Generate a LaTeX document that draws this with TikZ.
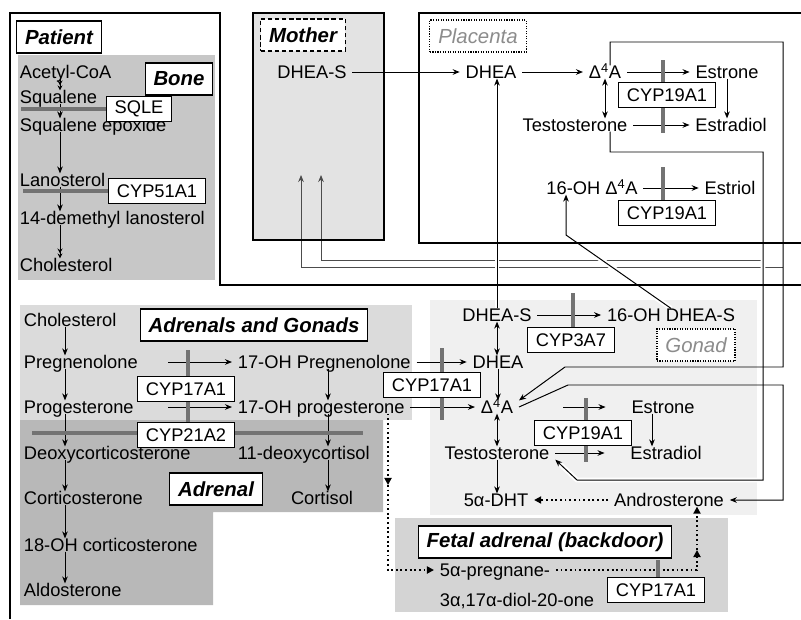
\documentclass[tikz,border=0pt]{standalone}
\usepackage{fontspec}
\setmainfont{Liberation Sans}
\usetikzlibrary{arrows.meta,positioning,calc}

\pgfdeclarelayer{shade}
\pgfdeclarelayer{lines}
\pgfsetlayers{shade,lines,main}

\tikzset{
  met/.style={font=\fontsize{13}{15}\selectfont, inner xsep=4pt, inner ysep=0pt, text height=9pt, text depth=0pt},
  metw/.style={met, anchor=west},
  enz/.style={draw, fill=white, line width=0.8pt, font=\fontsize{13}{15}\selectfont, inner xsep=6pt, minimum height=0.62cm},
  cmp/.style={draw, fill=white, line width=0.8pt, font=\fontsize{14.5}{16}\selectfont\bfseries\itshape, inner xsep=6pt, minimum height=0.8cm},
  cmpg/.style={cmp, densely dotted, text=black!45, font=\fontsize{14.5}{16}\selectfont\itshape},
  conn/.style={line width=0.7pt, -{Stealth[length=5pt,width=4pt]}},
  twoway/.style={line width=0.7pt, {Stealth[length=5pt,width=4pt]}-{Stealth[length=5pt,width=4pt]}},
  multi/.style={line width=0.7pt, -{Stealth[length=3.5pt,width=3.5pt] Stealth[length=3.5pt,width=3.5pt]}},
  back/.style={line width=1.3pt, dotted, -{Triangle[length=5pt,width=5pt]}},
  feed/.style={line width=0.6pt, draw=black!70, -{Stealth[length=5pt,width=4pt]}},
  halo/.style={preaction={draw=white, line width=3.5pt}},
  blk/.style={line width=3pt, draw=black!55},
  wall/.style={line width=2pt}
}

\begin{document}
\begin{tikzpicture}[x=0.025cm, y=-0.025cm]
\useasboundingbox (0,0) rectangle (801,619);

% compartment labels
\node[cmp] (patient) at (59,37) {Patient};
\node[cmp] (bone) at (179,79) {Bone};
\node[cmp, densely dashed] (mother) at (303,35) {Mother};
\node[cmpg] (placenta) at (478,36) {Placenta};
\node[cmp] (adrgon) at (254,325) {Adrenals and Gonads};
\node[cmp] (adrenal) at (216,489) {Adrenal};
\node[cmpg] (gonad) at (696,345) {Gonad};
\node[cmp] (fetal) at (545,542) {Fetal adrenal (backdoor)};

% bone
\node[metw] (acetyl) at (14,72) {Acetyl-CoA};
\node[metw] (squalene) at (14,97) {Squalene};
\node[metw] (epoxide) at (14,125) {Squalene epoxide};
\node[metw] (lanost) at (14,180) {Lanosterol};
\node[metw] (demethyl) at (14,218) {14-demethyl lanosterol};
\node[metw] (cholbone) at (14,265) {Cholesterol};
\node[enz] (sqle) at (139,109) {SQLE};
\node[enz] (cyp51) at (157,191) {CYP51A1};

% mother and placenta
\node[met] (dheasM) at (312,72) {DHEA-S};
\node[met] (dheaP) at (491,72) {DHEA};
\node[met] (a4P) at (605,72) {Δ\textsuperscript{4}A};
\node[met] (estroneP) at (727,72) {Estrone};
\node[met] (testoP) at (575,125) {Testosterone};
\node[met] (estradiolP) at (731,125) {Estradiol};
\node[enz] (cyp19P) at (667,95) {CYP19A1};
\node[met] (ohA4) at (592,188) {16-OH Δ\textsuperscript{4}A};
\node[met] (estriol) at (730,188) {Estriol};
\node[enz] (cyp19Pb) at (667,213) {CYP19A1};

% gonad
\node[met] (dheasG) at (497,315) {DHEA-S};
\node[met] (ohdheas) at (671,315) {16-OH DHEA-S};
\node[enz] (cyp3a7) at (571,340) {CYP3A7};
\node[met] (dheaG) at (498,362) {DHEA};
\node[enz] (cyp17G) at (432,385) {CYP17A1};
\node[met] (a4G) at (497,407) {Δ\textsuperscript{4}A};
\node[met] (estroneG) at (663,407) {Estrone};
\node[enz] (cyp19G) at (583,433) {CYP19A1};
\node[met] (testoG) at (497,453) {Testosterone};
\node[met] (estradiolG) at (666,453) {Estradiol};
\node[met] (dht) at (496,500) {5α-DHT};
\node[met] (andro) at (669,500) {Androsterone};

% adrenals and gonads
\node[metw] (cholA) at (18,320) {Cholesterol};
\node[metw] (preg) at (18,362) {Pregnenolone};
\node[metw] (prog) at (18,407) {Progesterone};
\node[metw] (doc) at (18,453) {Deoxycorticosterone};
\node[metw] (cort) at (18,498) {Corticosterone};
\node[metw] (ohcort) at (18,545) {18-OH corticosterone};
\node[metw] (aldo) at (18,590) {Aldosterone};
\node[metw] (ohpreg) at (232,362) {17-OH Pregnenolone};
\node[metw] (ohprog) at (232,407) {17-OH progesterone};
\node[metw] (deoxycortisol) at (232,453) {11-deoxycortisol};
\node[met] (cortisol) at (322,498) {Cortisol};
\node[enz] (cyp17A) at (186,389) {CYP17A1};
\node[enz] (cyp21) at (186,435) {CYP21A2};

% fetal adrenal
\node[metw] (pregA) at (434,570) {5α-pregnane-};
\node[metw] (pregB) at (434,600) {3α,17α-diol-20-one};
\node[enz] (cyp17F) at (656,590) {CYP17A1};

% bends and columns
\coordinate (bx) at (60,0);
\coordinate (ax) at (65,0);
\coordinate (mx) at (328,0);
\coordinate (px) at (168,0);
\coordinate (ex) at (652,0);
\coordinate (sa) at (610,152);
\coordinate (sb) at (763,152);
\coordinate (sc) at (763,480);
\coordinate (sd) at (577,480);
\coordinate (ra) at (783,42);
\coordinate (rb) at (783,367);
\coordinate (rc) at (565,367);
\coordinate (ga) at (568,385);
\coordinate (gb) at (783,385);
\coordinate (gc) at (783,500);
\coordinate (fa) at (783,267);
\coordinate (fb) at (301,267);
\coordinate (min1) at (301,175);
\coordinate (fc) at (763,260);
\coordinate (fd) at (321,260);
\coordinate (min2) at (321,175);
\coordinate (oh) at (566,235);
\coordinate (dx) at (388,485);
\coordinate (dc) at (388,570);
\coordinate (up) at (697,570);
\coordinate (um) at (697,550);

% shaded tissues
\begin{pgfonlayer}{shade}
\fill[black!22] (18,55) rectangle (215,280);
\fill[black!11] (253,13) rectangle (384,240);
\fill[black!14] (20,305) rectangle (412,420);
\fill[black!28] (20,420) -- (383,420) -- (383,512) -- (213,512) -- (213,605) -- (20,605) -- cycle;
\fill[black!6] (430,300) rectangle (757,515);
\fill[black!17] (395,518) rectangle (728,612);
\end{pgfonlayer}

\begin{pgfonlayer}{lines}
% bone
\draw[multi] (acetyl.south -| bx) -- (squalene.north -| bx);
\draw[conn] (squalene.south -| bx) -- (epoxide.north -| bx);
\draw[conn] (epoxide.south -| bx) -- (lanost.north -| bx);
\draw[conn] (lanost.south -| bx) -- (demethyl.north -| bx);
\draw[multi] (demethyl.south -| bx) -- (cholbone.north -| bx);

% back to the mother
\draw[feed] (fa) -- (fb) -- (min1);
\draw[feed] (fc) -- (fd) -- (min2);

% placenta
\draw[conn] (dheasM) -- (dheaP);
\draw[conn] (dheaP) -- (a4P);
\draw[conn] (a4P) -- (estroneP);
\draw[conn] (testoP) -- (estradiolP);
\draw[twoway] (a4P.south) -- (a4P.south |- testoP.north);
\draw[conn] (estroneP.south) -- (estroneP.south |- estradiolP.north);
\draw[conn] (ohA4) -- (estriol);
\draw[conn, halo] (dheasG.north) -- (dheasG.north |- dheaP.south);
\draw[conn, halo] (ohdheas.north) -- (oh) -- (oh |- ohA4.south);
\draw[conn, halo] (testoP.south -| sa) -- (sa) -- (sb) -- (sc) -- (sd) -- (testoG.south east);
\draw[conn] (a4P.north -| sa) |- (ra) -- (rb) -- (rc) -- (a4G.north east);

% gonad
\draw[conn] (dheasG) -- (ohdheas);
\draw[twoway] (dheasG.south) -- (dheasG.south |- dheaG.north);
\draw[conn] (ohpreg) -- (dheaG);
\draw[conn] (dheaG.south) -- (dheaG.south |- a4G.north);
\draw[conn] (ohprog) -- (a4G);
\draw[twoway] (a4G.south) -- (a4G.south |- testoG.north);
\draw[conn] (testoG.south) -- (testoG.south |- dht.north);
\draw[conn] ([xshift=1.1cm]a4G.east) -- ([xshift=-0.5cm]estroneG.west);
\draw[conn] (testoG) -- ([xshift=-0.5cm]estradiolG.west);
\draw[conn] (estroneG.south -| ex) -- (ex |- estradiolG.north);
\draw[conn] (a4G.east) -- (ga) -- (gb) -- (gc) -- (andro);
\draw[back] (andro) -- (dht);

% adrenals and gonads
\draw[conn] (cholA.south -| ax) -- (preg.north -| ax);
\draw[conn] (preg.south -| ax) -- (prog.north -| ax);
\draw[conn] (prog.south -| ax) -- (doc.north -| ax);
\draw[conn] (doc.south -| ax) -- (cort.north -| ax);
\draw[conn] (cort.south -| ax) -- (ohcort.north -| ax);
\draw[conn] (ohcort.south -| ax) -- (aldo.north -| ax);
\draw[conn] (ohpreg.south -| mx) -- (ohprog.north -| mx);
\draw[conn] (ohprog.south -| mx) -- (deoxycortisol.north -| mx);
\draw[conn] (deoxycortisol.south -| mx) -- (cortisol.north -| mx);
\draw[conn] (preg -| px) -- (ohpreg);
\draw[conn] (prog -| px) -- (ohprog);

% backdoor
\draw[back] (ohprog.south -| dx) -- (dx);
\draw[back] (dx) -- (dc) -- (pregA);
\draw[back] (pregA) -- (up) -- (um);
\draw[back] (um) -- (up |- andro.south);

% blocked steps
\draw[blk] (sqle.west) -- ++(-85,0);
\draw[blk] (cyp51.west) -- ++(-85,0);
\draw[blk] (663,60) -- (663,133);
\draw[blk] (663,167) -- (663,200);
\draw[blk] (573,293) -- (573,327);
\draw[blk] (442,348) -- (442,420);
\draw[blk] (586,398) -- (586,462);
\draw[blk] (188,350) -- (188,423);
\draw[blk] (32,433) -- (363,433);
\draw[blk] (658,560) -- (658,577);
\end{pgfonlayer}

% compartment walls
\draw[wall] (10,619) -- (10,13) -- (220,13) -- (220,285) -- (801,285);
\draw[wall] (253,13) rectangle (384,240);
\draw[wall] (801,13) -- (419,13) -- (419,243) -- (801,243);
\end{tikzpicture}
\end{document}
